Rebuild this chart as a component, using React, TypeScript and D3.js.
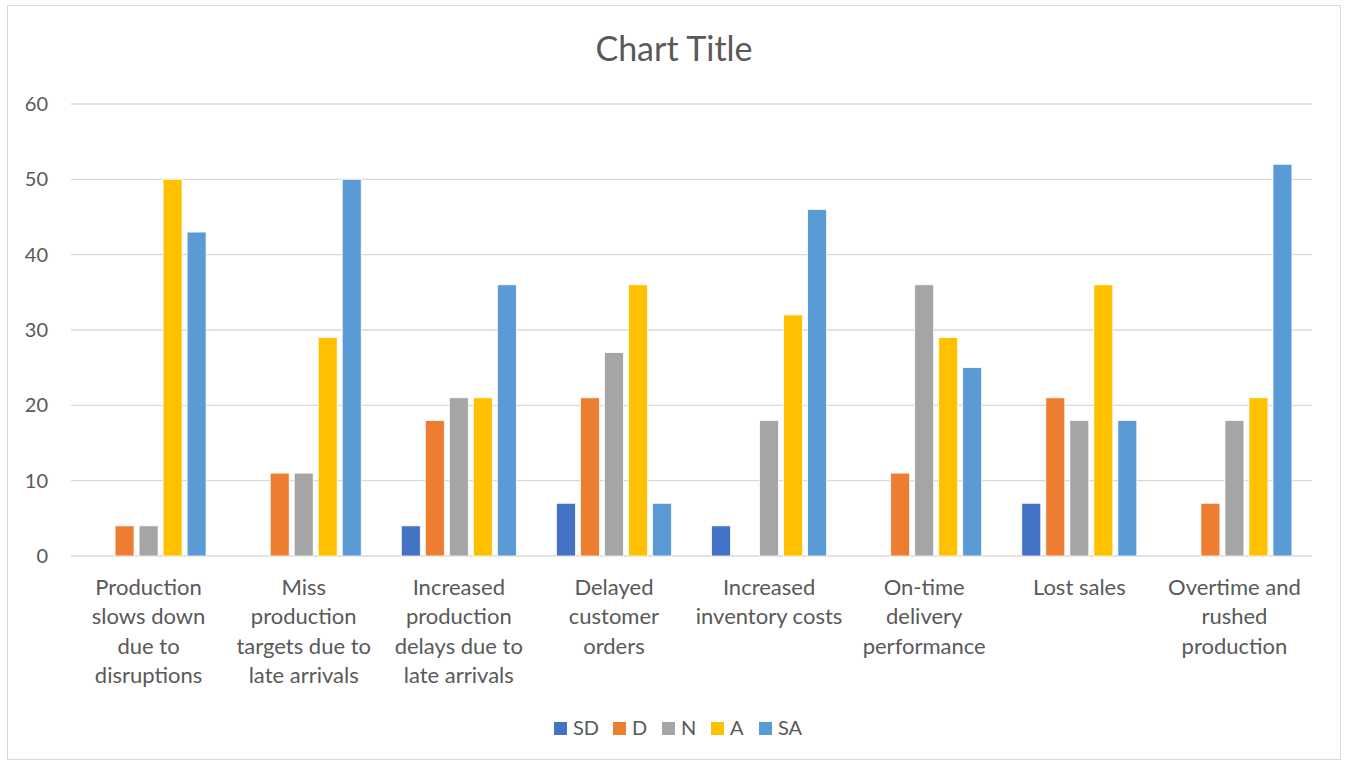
import React from "react";
import * as d3 from "d3";

const categories = [
  ["Production", "slows down", "due to", "disruptions"],
  ["Miss", "production", "targets due to", "late arrivals"],
  ["Increased", "production", "delays due to", "late arrivals"],
  ["Delayed", "customer", "orders"],
  ["Increased", "inventory costs"],
  ["On-time", "delivery", "performance"],
  ["Lost sales"],
  ["Overtime and", "rushed", "production"],
];
const seriesNames = ["SD", "D", "N", "A", "SA"];
const seriesColors = ["#4472C4", "#ED7D31", "#A5A5A5", "#FFC000", "#5B9BD5"];
const SD = [0, 0, 4, 7, 4, 0, 7, 0];
const D = [4, 11, 18, 21, 0, 11, 21, 7];
const N = [4, 11, 21, 27, 18, 36, 18, 18];
const A = [50, 29, 21, 36, 32, 29, 36, 21];
const SA = [43, 50, 36, 7, 46, 25, 18, 52];
const yTicks = [0, 10, 20, 30, 40, 50, 60];

const values = [SD, D, N, A, SA];

const W = 1347;
const H = 764;
const FONT = "Lato, 'Open Sans', sans-serif";
const TEXT = "#595959";

export default function App() {
  const left = 71, right = 1312, top = 104, bottom = 556;
  const catKeys = categories.map((_, i) => String(i));
  const x0 = d3.scaleBand().domain(catKeys).range([left, right]).padding(0);
  const groupW = 115;
  const x1 = d3
    .scaleBand()
    .domain(seriesNames)
    .range([(x0.bandwidth() - groupW) / 2, (x0.bandwidth() + groupW) / 2])
    .paddingInner(0.21)
    .paddingOuter(0);
  const y = d3.scaleLinear().domain([0, 60]).range([bottom, top]);

  const legendItems = [
    { name: "SD", x: 554 },
    { name: "D", x: 613 },
    { name: "N", x: 662 },
    { name: "A", x: 711 },
    { name: "SA", x: 759 },
  ];

  return (
    <svg width={W} height={H} style={{ position: "absolute", left: 0, top: 0 }}>
      <rect x={0} y={0} width={W} height={H} fill="#fff" />
      <rect x={7.5} y={5.5} width={1333} height={754} fill="#fff" stroke="#d9d9d9" strokeWidth={1} />
      <text x={674} y={61} textAnchor="middle" fontFamily={FONT} fontSize={34} fill={TEXT}>
        Chart Title
      </text>
      {yTicks.map((t) => (
        <g key={t}>
          <line x1={left} x2={right} y1={y(t)} y2={y(t)} stroke="#d9d9d9" strokeWidth={1.3} />
          <text x={48} y={y(t) + 7} textAnchor="end" fontFamily={FONT} fontSize={20} fill={TEXT}>
            {t}
          </text>
        </g>
      ))}
      {catKeys.map((c, ci) => (
        <g key={c} transform={`translate(${x0(c)},0)`}>
          {seriesNames.map((s, si) => {
            const v = values[si][ci];
            if (!v) return null;
            return (
              <rect
                key={s}
                x={x1(s)}
                y={y(v)}
                width={x1.bandwidth()}
                height={y(0) - y(v)}
                fill={seriesColors[si]}
                stroke="#fff"
                strokeWidth={0.75}
              />
            );
          })}
          {categories[ci].map((line, li) => (
            <text
              key={li}
              x={x0.bandwidth() / 2}
              y={594.5 + li * 29.5}
              textAnchor="middle"
              fontFamily={FONT}
              fontSize={22}
              fill={TEXT}
            >
              {line}
            </text>
          ))}
        </g>
      ))}
      {legendItems.map((it, i) => (
        <g key={it.name}>
          <rect x={it.x} y={722} width={13} height={13} fill={seriesColors[i]} />
          <text x={it.x + 19} y={735} fontFamily={FONT} fontSize={20} fill={TEXT}>
            {it.name}
          </text>
        </g>
      ))}
    </svg>
  );
}
